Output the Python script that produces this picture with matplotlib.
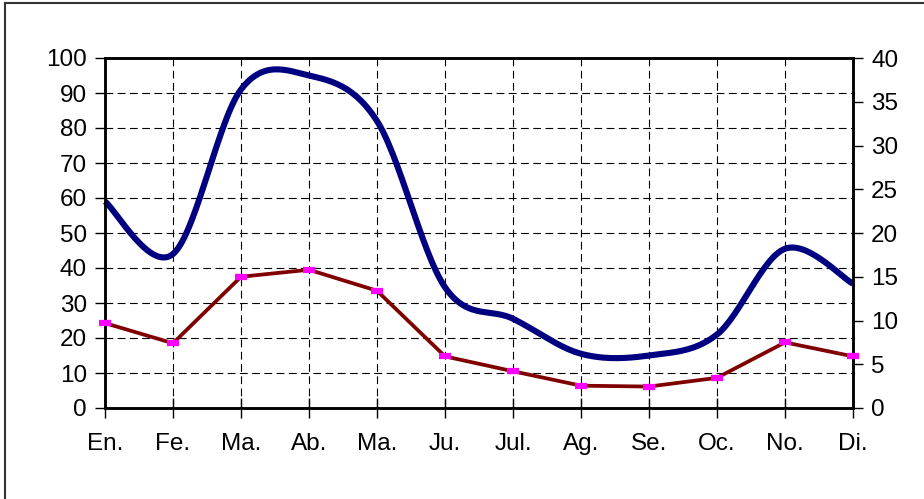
import numpy as np
import matplotlib.pyplot as plt
from matplotlib.lines import Line2D

plt.rcParams['font.family'] = ['Liberation Sans', 'DejaVu Sans']

# Month labels
months = ["En.", "Fe.", "Ma.", "Ab.", "Ma.", "Ju.", "Jul.", "Ag.", "Se.", "Oc.", "No.", "Di."]
# Blue series, left axis
blue_vals = [59, 44, 91, 95, 82, 34.5, 25.5, 15.5, 15, 21, 45.5, 35.5]
# Red series, right axis
red_vals = [9.7, 7.4, 15.0, 15.8, 13.4, 5.9, 4.2, 2.55, 2.45, 3.45, 7.5, 5.9]

left_ticks = list(range(0, 101, 10))
right_ticks = list(range(0, 41, 5))


def smooth(xs, ys, n=30):
    # Bezier smoothing through the points, like the spreadsheet "smoothed line"
    xs = np.asarray(xs, float)
    ys = np.asarray(ys, float)
    px = np.concatenate([[xs[0]], xs, [xs[-1]]])
    py = np.concatenate([[ys[0]], ys, [ys[-1]]])
    outx, outy = [], []
    for i in range(1, len(px) - 2):
        t = np.linspace(0, 1, n, endpoint=False)
        p0x, p1x, p2x, p3x = px[i - 1:i + 3]
        p0y, p1y, p2y, p3y = py[i - 1:i + 3]
        c1x, c1y = p1x + (p2x - p0x) / 6, p1y + (p2y - p0y) / 6
        c2x, c2y = p2x - (p3x - p1x) / 6, p2y - (p3y - p1y) / 6
        bx = (1 - t)**3 * p1x + 3 * (1 - t)**2 * t * c1x + 3 * (1 - t) * t**2 * c2x + t**3 * p2x
        by = (1 - t)**3 * p1y + 3 * (1 - t)**2 * t * c1y + 3 * (1 - t) * t**2 * c2y + t**3 * p2y
        outx.extend(bx)
        outy.extend(by)
    outx.append(xs[-1])
    outy.append(ys[-1])
    return np.array(outx), np.array(outy)


x = np.arange(len(months))

fig = plt.figure(figsize=(9.24, 4.99), dpi=100)
ax = fig.add_axes([105 / 924, 1 - 408 / 499, 748 / 924, 350 / 499])
ax2 = ax.twinx()

sx, sy = smooth(x, blue_vals)
ax.plot(sx, sy, color='#000080', lw=4.4, solid_capstyle='butt', zorder=3, clip_on=False)

ax2.plot(x, red_vals, color='#800000', lw=2.7, zorder=3, clip_on=False,
         marker='_', markersize=8, markeredgewidth=4.5,
         markeredgecolor='#ff00ff')

ax.set_xlim(0, 11)
ax.set_ylim(0, 100)
ax2.set_ylim(0, 40)
ax.set_xticks(x)
ax.set_xticklabels(months)
ax.set_yticks(left_ticks)
ax2.set_yticks(right_ticks)

ax.grid(True, color='black', linestyle=(0, (7, 4)), linewidth=0.8)
ax.set_axisbelow(True)

for a in (ax, ax2):
    for s in a.spines.values():
        s.set_linewidth(1.8)
        s.set_color('black')

ax.tick_params(axis='both', labelsize=17.5, length=7, width=1, direction='out', pad=6)
ax.tick_params(axis='x', direction='inout', length=14, pad=11)
ax2.tick_params(axis='y', labelsize=17.5, length=7, width=1, direction='out', pad=6)

# outer frame (left and top edges visible)
fig.add_artist(Line2D([5 / 924, 5 / 924], [0, 1 - 3 / 499], color='#333333', lw=1.5))
fig.add_artist(Line2D([5 / 924, 1], [1 - 3 / 499, 1 - 3 / 499], color='#333333', lw=1.5))

fig.savefig('out.png', dpi=100)
